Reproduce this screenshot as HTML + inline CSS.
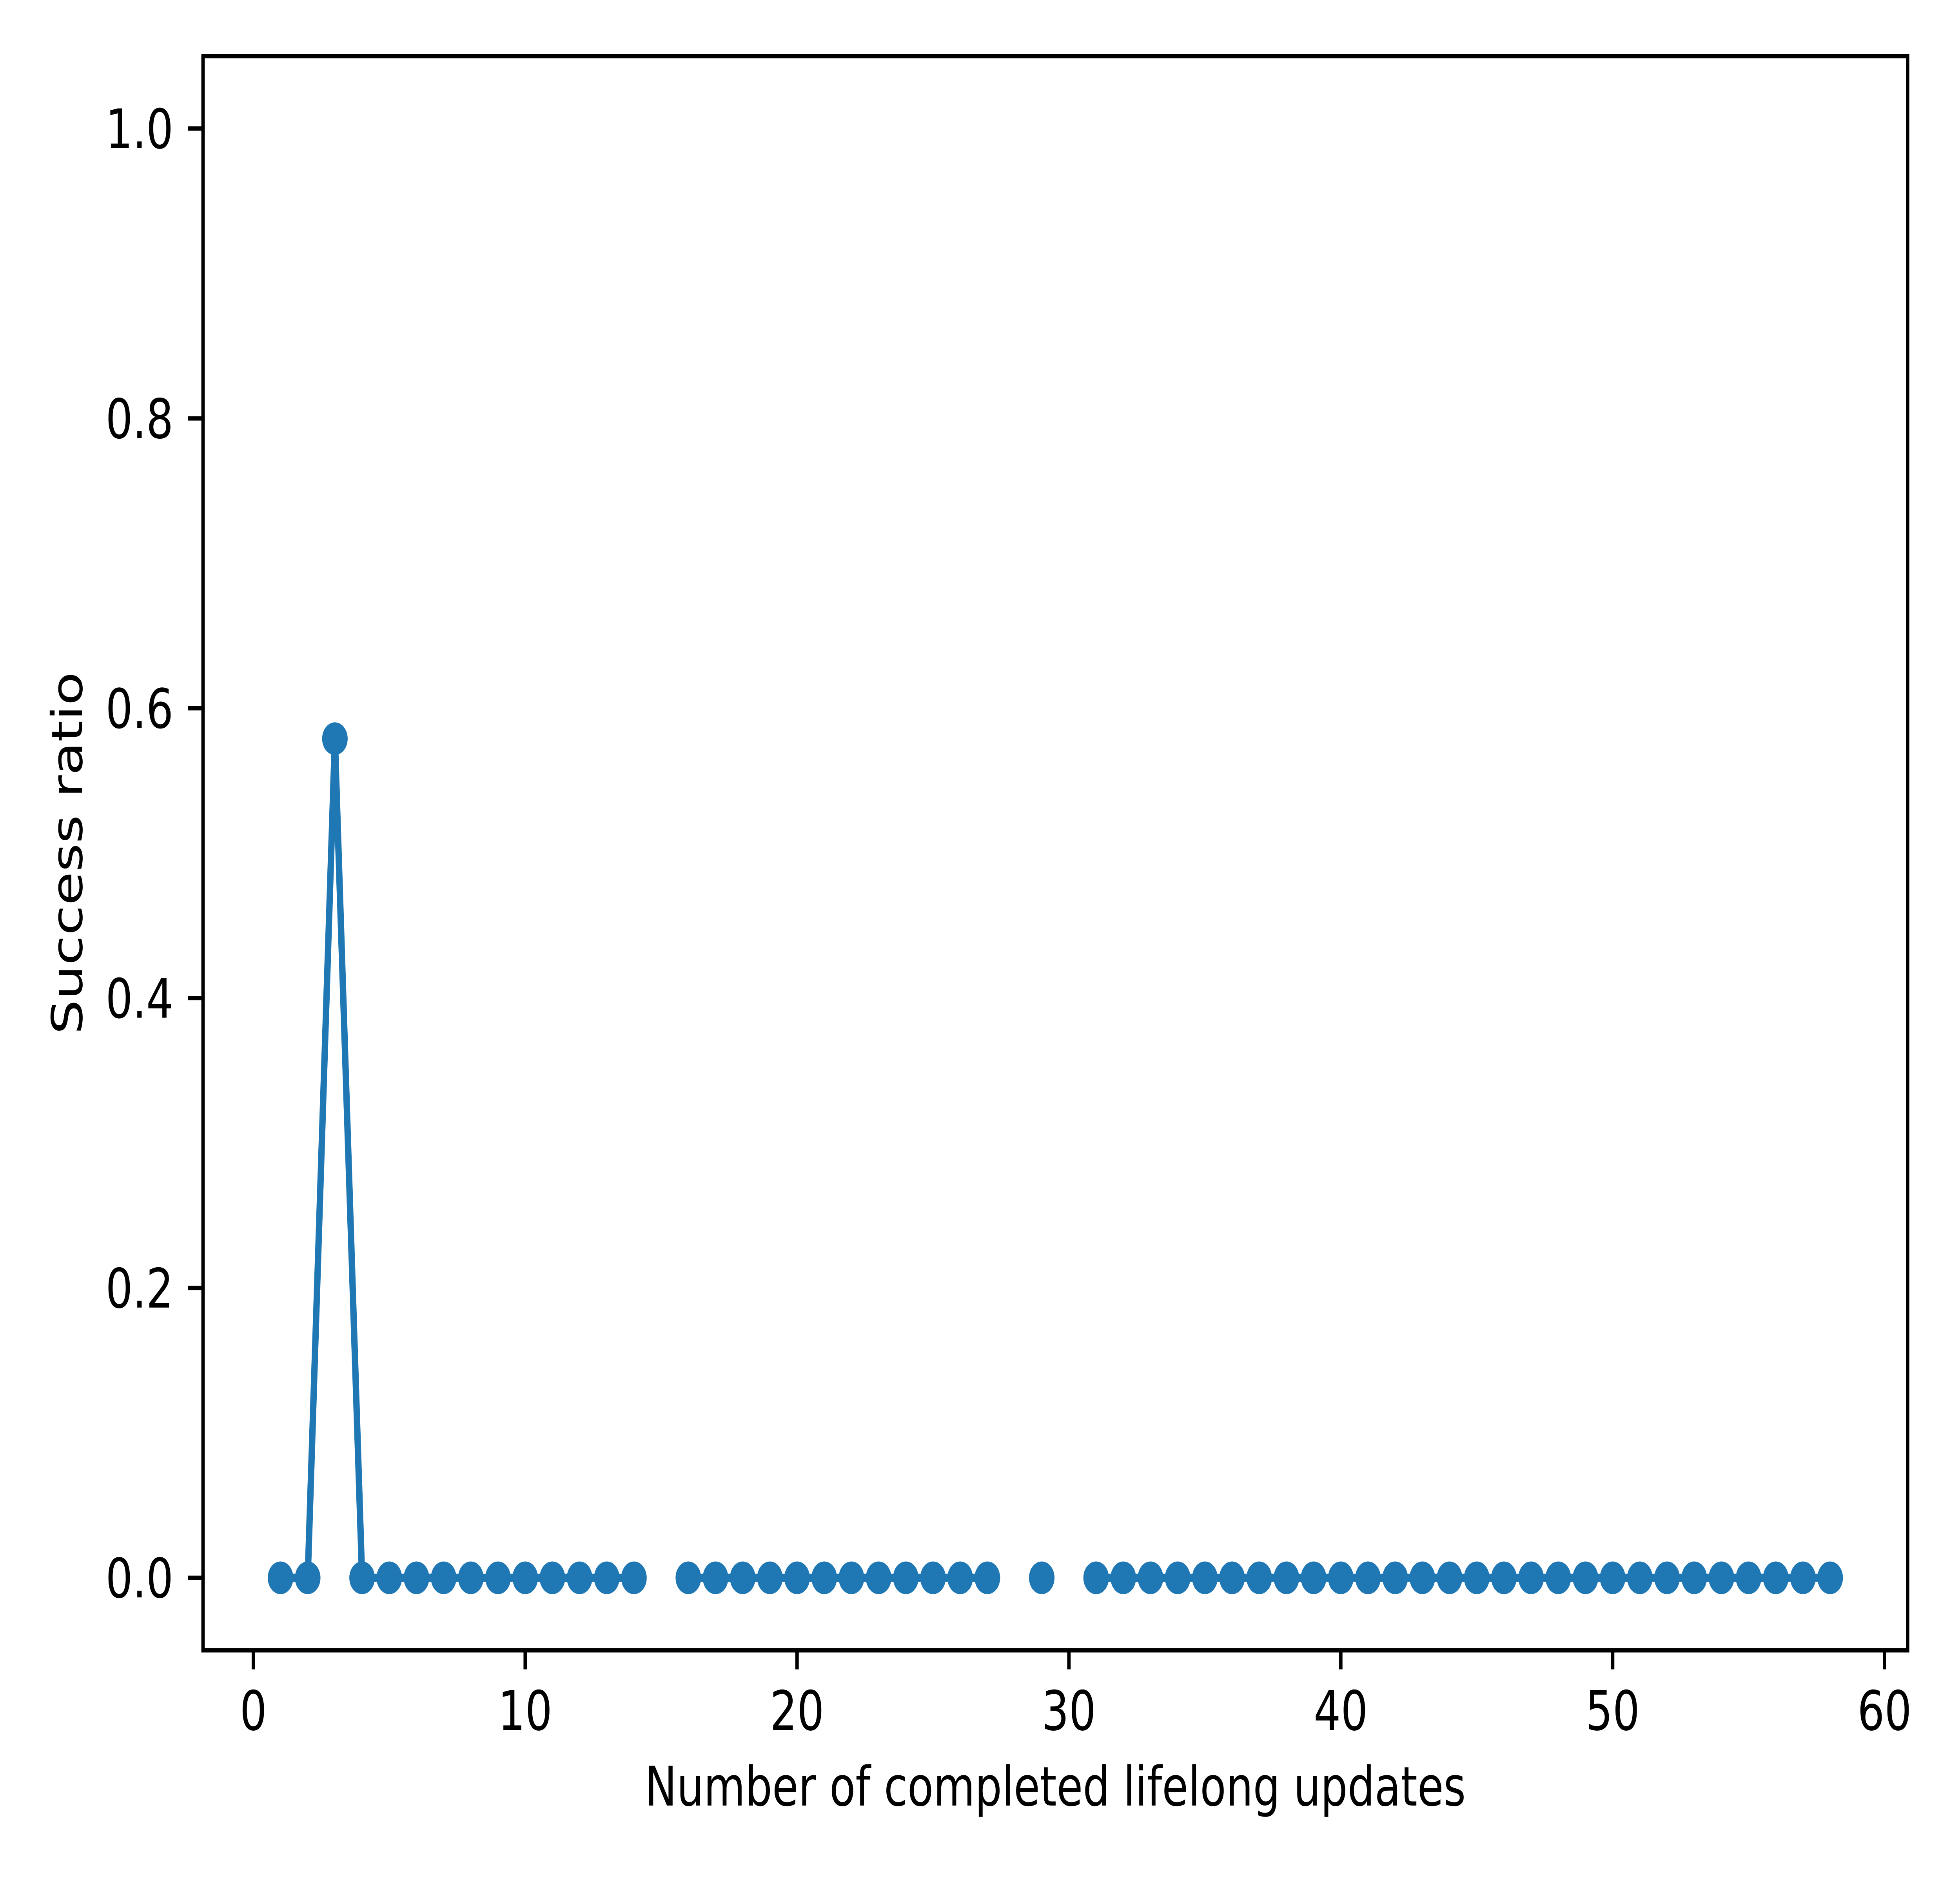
<!DOCTYPE html>
<html><head><meta charset="utf-8"><style>html,body{margin:0;padding:0;background:#fff;width:100%;height:100%;overflow:hidden}svg{display:block;width:100vw;height:100vh}text{font-family:"DejaVu Sans","Liberation Sans",sans-serif;fill:#000}</style></head>
<body>
<svg id="chart" viewBox="0 0 6400 4800" preserveAspectRatio="none" xmlns="http://www.w3.org/2000/svg">
<rect x="0" y="0" width="6400" height="4800" fill="#fff"/>
<g id="plot"></g>
</svg>
<script>
const xValues = [1,2,3,4,5,6,7,8,9,10,11,12,13,14,15,16,17,18,19,20,21,22,23,24,25,26,27,28,29,30,31,32,33,34,35,36,37,38,39,40,41,42,43,44,45,46,47,48,49,50,51,52,53,54,55,56,57,58];
const successValues = [0,0,0.579,0,0,0,0,0,0,0,0,0,0,0,null,0,0,0,0,0,0,0,0,0,0,0,0,null,0,null,0,0,0,0,0,0,0,0,0,0,0,0,0,0,0,0,0,0,0,0,0,0,0,0,0,0,0,0];
const xTicks = [0,10,20,30,40,50,60];
const yTicks = [0,0.2,0.4,0.6,0.8,1.0];
const yTickLabels = ["0.0","0.2","0.4","0.6","0.8","1.0"];

const L=663,R=6229,T=143,B=4209;
const XMIN=-1.85,XMAX=60.85,YMIN=-0.05,YMAX=1.05;
const sx=v=>L+(v-XMIN)/(XMAX-XMIN)*(R-L);
const sy=v=>B-(v-YMIN)/(YMAX-YMIN)*(B-T);
const NS="http://www.w3.org/2000/svg";
const g=document.getElementById('plot');
function mk(tag,attrs,parent){const e=document.createElementNS(NS,tag);for(const k in attrs)e.setAttribute(k,attrs[k]);(parent||g).appendChild(e);return e;}

let d="",pen=false;
for(let i=0;i<xValues.length;i++){
  const v=successValues[i];
  if(v===null){pen=false;continue;}
  d+=(pen?"L":"M")+sx(xValues[i]).toFixed(1)+" "+sy(v).toFixed(1)+" ";
  pen=true;
}
const line=mk('path',{d:d,fill:'none',stroke:'#1f77b4','stroke-width':20.8,'stroke-linejoin':'round','stroke-linecap':'square'});



for(let i=0;i<xValues.length;i++){
  const v=successValues[i];
  if(v===null)continue;
  const c=mk('circle',{cx:sx(xValues[i]),cy:sy(v),r:41.7,fill:'#1f77b4'});
  
  
}

const frame=mk('rect',{x:L,y:T,width:R-L,height:B-T,fill:'none',stroke:'#000','stroke-width':11.1,'stroke-linejoin':'miter'});



xTicks.forEach(t=>{
  const x=sx(t);
  const tk=mk('line',{x1:x,x2:x,y1:B,y2:B+48.6,stroke:'#000','stroke-width':11.1});
  
  
  const tx=mk('text',{x:x,y:4412,'font-size':139,'text-anchor':'middle'});
  tx.textContent=String(t);
  
  
});
yTicks.forEach((t,i)=>{
  const y=sy(t);
  const tk=mk('line',{x1:L-48.6,x2:L,y1:y,y2:y,stroke:'#000','stroke-width':11.1});
  
  
  const tx=mk('text',{x:L-97,y:y+50,'font-size':139,'text-anchor':'end'});
  tx.textContent=yTickLabels[i];
  
  
});
const xl=mk('text',{x:(L+R)/2,y:4605,'font-size':139,'text-anchor':'middle'});
xl.textContent="Number of completed lifelong updates";


const yl=mk('text',{x:0,y:0,'font-size':139,'text-anchor':'middle',transform:`translate(268 ${(T+B)/2}) rotate(-90)`});
yl.textContent="Success ratio";


</script>
</body></html>
